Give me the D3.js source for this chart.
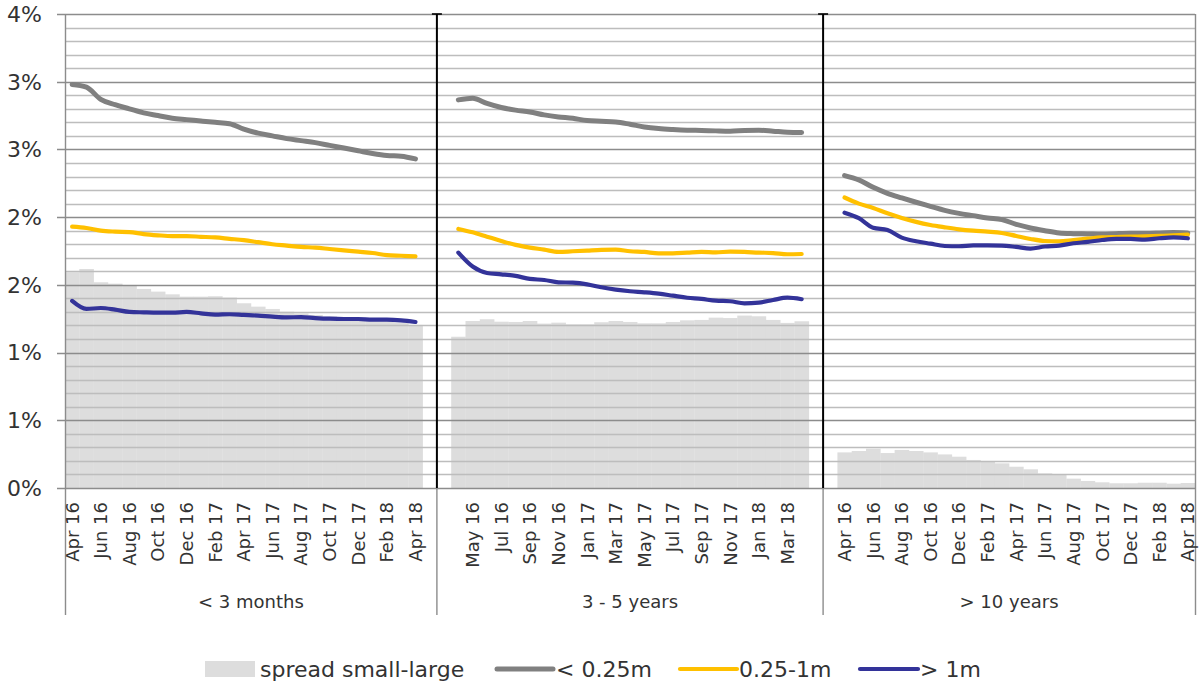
<!DOCTYPE html>
<html><head><meta charset="utf-8">
<script src="https://cdn.jsdelivr.net/npm/d3@7"></script>
<style>
html,body{margin:0;padding:0;background:#fff;}
svg text{font-family:"DejaVu Sans","Noto Sans",sans-serif;fill:#333;}
</style></head>
<body><svg id="chart" width="1200" height="686"></svg>
<script>
// ---------- data ----------
const months = ["Apr 16","May 16","Jun 16","Jul 16","Aug 16","Sep 16","Oct 16","Nov 16","Dec 16","Jan 17","Feb 17","Mar 17","Apr 17","May 17","Jun 17","Jul 17","Aug 17","Sep 17","Oct 17","Nov 17","Dec 17","Jan 18","Feb 18","Mar 18","Apr 18"];
const groups = ["< 3 months","3 - 5 years","> 10 years"];
const seriesNames = ["spread small-large","< 0.25m","0.25-1m","> 1m"];
const yTickValues = [0,0.5,1,1.5,2,2.5,3,3.5];
const yTickLabels = ["0%","1%","1%","2%","2%","3%","3%","4%"];

const under025_3m = [2.98,2.96,2.87,2.83,2.80,2.77,2.75,2.73,2.72,2.71,2.70,2.69,2.65,2.62,2.60,2.58,2.565,2.55,2.53,2.51,2.49,2.47,2.455,2.45,2.43];
const mid_3m      = [1.93,1.92,1.90,1.893,1.89,1.875,1.866,1.86,1.86,1.855,1.85,1.84,1.83,1.815,1.80,1.79,1.78,1.775,1.765,1.755,1.745,1.735,1.72,1.715,1.71];
const over1m_3m   = [1.381,1.322,1.329,1.317,1.30,1.297,1.295,1.295,1.30,1.29,1.28,1.283,1.278,1.273,1.265,1.26,1.262,1.255,1.25,1.248,1.248,1.243,1.243,1.238,1.226];
const spread_3m   = [1.593,1.617,1.519,1.509,1.494,1.47,1.45,1.43,1.413,1.413,1.416,1.406,1.364,1.339,1.322,1.302,1.289,1.278,1.267,1.255,1.248,1.241,1.233,1.222,1.204];

const under025_35y = [2.866,2.878,2.84,2.81,2.79,2.777,2.755,2.74,2.73,2.713,2.708,2.703,2.686,2.666,2.654,2.647,2.642,2.64,2.637,2.635,2.64,2.642,2.635,2.627,2.625];
const mid_35y      = [1.913,1.888,1.856,1.824,1.795,1.775,1.76,1.743,1.748,1.753,1.758,1.76,1.748,1.743,1.733,1.733,1.738,1.743,1.74,1.745,1.743,1.738,1.735,1.726,1.728];
const over1m_35y   = [1.738,1.635,1.588,1.578,1.566,1.544,1.536,1.519,1.516,1.504,1.482,1.465,1.453,1.445,1.435,1.42,1.405,1.396,1.383,1.379,1.364,1.369,1.388,1.405,1.394];
const spread_35y   = [1.117,1.233,1.246,1.228,1.226,1.233,1.214,1.221,1.209,1.209,1.224,1.233,1.226,1.216,1.216,1.226,1.238,1.241,1.258,1.255,1.273,1.268,1.241,1.219,1.231];

const under025_10y = [2.307,2.275,2.22,2.176,2.142,2.11,2.08,2.05,2.028,2.011,1.994,1.982,1.947,1.92,1.90,1.883,1.878,1.876,1.873,1.878,1.881,1.881,1.883,1.886,1.883];
const mid_10y      = [2.145,2.10,2.068,2.028,1.994,1.965,1.942,1.925,1.91,1.90,1.893,1.883,1.861,1.839,1.824,1.822,1.831,1.841,1.85,1.853,1.856,1.858,1.861,1.866,1.871];
const over1m_10y   = [2.033,1.992,1.922,1.905,1.849,1.822,1.804,1.787,1.785,1.792,1.792,1.79,1.78,1.768,1.783,1.79,1.807,1.817,1.831,1.839,1.839,1.834,1.844,1.85,1.844];
const spread_10y   = [0.263,0.273,0.29,0.258,0.281,0.273,0.263,0.248,0.231,0.207,0.195,0.182,0.157,0.138,0.108,0.096,0.069,0.052,0.042,0.035,0.035,0.039,0.039,0.032,0.037];

const colors = {spread:"#dddddd", under025:"#808080", mid:"#ffc000", over1m:"#333399"};

// ---------- build tables ----------
const panelData = [
  {under025:under025_3m, mid:mid_3m, over1m:over1m_3m, spread:spread_3m, padBefore:false, padAfter:true},
  {under025:under025_35y, mid:mid_35y, over1m:over1m_35y, spread:spread_35y, padBefore:true, padAfter:true},
  {under025:under025_10y, mid:mid_10y, over1m:over1m_10y, spread:spread_10y, padBefore:true, padAfter:false}
];
const slots = [];
const groupRanges = [];
panelData.forEach((p,g)=>{
  const start = slots.length;
  if(p.padBefore) slots.push({key:`pad${g}a`, label:"", group:g});
  months.forEach(m=>slots.push({key:`${g}|${m}`, label:m, group:g}));
  if(p.padAfter) slots.push({key:`pad${g}b`, label:"", group:g});
  groupRanges.push([start, slots.length]);
});

// ---------- scales ----------
const pLeft=65, pRight=1195, pTop=14, pBottom=488;
const x = d3.scaleBand().domain(slots.map(s=>s.key)).range([pLeft,pRight]).padding(0);
const y = d3.scaleLinear().domain([0,3.5]).range([pBottom,pTop]);
const svg = d3.select("#chart");

// bars
panelData.forEach((p,g)=>{
  svg.append("g").selectAll("rect").data(months).join("rect")
    .attr("x", m=>x(`${g}|${m}`))
    .attr("width", x.bandwidth()+0.3)
    .attr("y", (m,i)=>y(p.spread[i]))
    .attr("height", (m,i)=>y(0)-y(p.spread[i]))
    .attr("fill", colors.spread);
});

// gridlines
const minorTicks = d3.range(0,36).map(v=>v/10).filter(v=>Math.abs(v*2-Math.round(v*2))>1e-6);
svg.append("g").selectAll("line").data(minorTicks).join("line")
  .attr("x1",pLeft).attr("x2",pRight)
  .attr("y1",d=>Math.round(y(d))+0.5).attr("y2",d=>Math.round(y(d))+0.5)
  .attr("stroke","#bdbdbd").attr("stroke-width",1.3);
svg.append("g").selectAll("line").data(yTickValues).join("line")
  .attr("x1",pLeft-8).attr("x2",pRight)
  .attr("y1",d=>Math.round(y(d))+0.5).attr("y2",d=>Math.round(y(d))+0.5)
  .attr("stroke","#8c8c8c").attr("stroke-width",1.4);

// y labels
svg.append("g").selectAll("text").data(yTickValues).join("text")
  .attr("x",42).attr("y",d=>y(d)).attr("dy","0.36em")
  .attr("text-anchor","end").style("font-size","22px")
  .text((d,i)=>yTickLabels[i]);

// axis lines, borders, group separators
const sepXs = [pLeft, x(slots[groupRanges[1][0]].key), x(slots[groupRanges[2][0]].key), pRight];
svg.append("line").attr("x1",pLeft+0.5).attr("x2",pLeft+0.5).attr("y1",pTop).attr("y2",615)
  .attr("stroke","#8c8c8c").attr("stroke-width",1.4);
svg.append("line").attr("x1",pRight+0.5).attr("x2",pRight+0.5).attr("y1",pTop).attr("y2",615)
  .attr("stroke","#8c8c8c").attr("stroke-width",1.4);
[sepXs[1],sepXs[2]].forEach(sx=>{
  svg.append("line").attr("x1",sx).attr("x2",sx).attr("y1",pBottom).attr("y2",615)
    .attr("stroke","#8c8c8c").attr("stroke-width",1.4);
  svg.append("line").attr("x1",sx).attr("x2",sx).attr("y1",pTop).attr("y2",pBottom)
    .attr("stroke","#000").attr("stroke-width",2);
  svg.append("line").attr("x1",sx-5).attr("x2",sx+5).attr("y1",pTop).attr("y2",pTop)
    .attr("stroke","#000").attr("stroke-width",1.6);
});

// lines
const seriesKeys = ["under025","mid","over1m"];
const widths = {under025:5, mid:4.2, over1m:4.2};
panelData.forEach((p,g)=>{
  seriesKeys.forEach(k=>{
    const line = d3.line()
      .x((v,i)=>x(`${g}|${months[i]}`)+x.bandwidth()/2)
      .y(v=>y(v))
      .curve(d3.curveMonotoneX);
    svg.append("path").datum(p[k]).attr("d",line)
      .attr("fill","none").attr("stroke",colors[k]).attr("stroke-width",widths[k])
      .attr("stroke-linejoin","round").attr("stroke-linecap","round");
  });
});

// month labels
svg.append("g").selectAll("text").data(slots.map((s,i)=>({s,i})).filter(o=>o.i%2===0 && o.s.label))
  .join("text")
  .attr("transform",o=>`translate(${x(o.s.key)+x.bandwidth()/2},502) rotate(-90)`)
  .attr("dy","0.36em").attr("text-anchor","end").style("font-size","18px")
  .text(o=>o.s.label);

// group labels
svg.append("g").selectAll("text").data(groups).join("text")
  .attr("x",(d,i)=>(sepXs[i]+sepXs[i+1])/2).attr("y",608)
  .attr("text-anchor","middle").style("font-size","18px")
  .text(d=>d);

// legend
const lg = svg.append("g");
lg.append("rect").attr("x",205).attr("y",661).attr("width",50).attr("height",16).attr("fill",colors.spread);
lg.append("text").attr("x",260).attr("y",677).style("font-size","22px").text(seriesNames[0]);
const legItems = [
  {k:"under025", x1:497, x2:553, tx:556, name:seriesNames[1]},
  {k:"mid", x1:680, x2:737, tx:739, name:seriesNames[2]},
  {k:"over1m", x1:860, x2:918, tx:920, name:seriesNames[3]}
];
legItems.forEach(it=>{
  lg.append("line").attr("x1",it.x1).attr("x2",it.x2).attr("y1",669).attr("y2",669)
    .attr("stroke",colors[it.k]).attr("stroke-width",widths[it.k]).attr("stroke-linecap","round");
  lg.append("text").attr("x",it.tx).attr("y",677).style("font-size","22px").text(it.name);
});
</script></body></html>
